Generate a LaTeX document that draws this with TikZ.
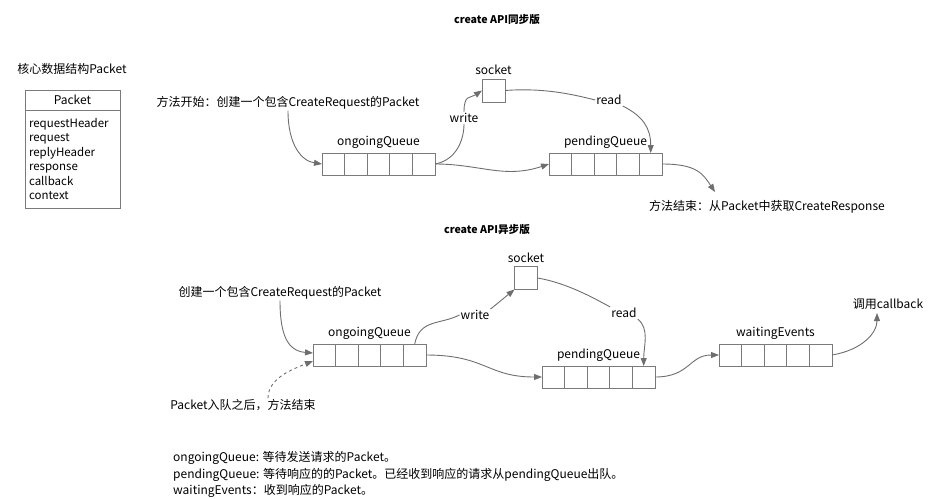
\documentclass[tikz,border=0pt]{standalone}
\usepackage{fontspec}
\setmainfont{Noto Sans CJK SC}
\usetikzlibrary{positioning,arrows.meta}
\definecolor{linegray}{HTML}{6E6E6E}
\definecolor{boxgray}{HTML}{7A7A7A}
\tikzset{
	cell/.style={draw=boxgray, line width=0.9pt, minimum width=22.6pt,
	minimum height=22pt, inner sep=0pt, outer sep=0pt},
	lnk/.style={draw=linegray, line width=0.9pt},
	arr/.style={lnk, -{Triangle[length=8pt,width=6pt]}},
	lbl/.style={inner sep=1pt, font=\fontsize{12}{13}\selectfont},
	ttl/.style={inner sep=1pt, font=\fontsize{10.6}{12}\selectfont\bfseries},
}
\begin{document}
\begin{tikzpicture}[x=1pt, y=-1pt]
	\useasboundingbox (0,0) rectangle (941,498);
	% Titel
	\node[ttl] (titleA) at (497, 20) {create API同步版};
	\node[ttl] (titleB) at (487, 230) {create API异步版};

	% Datenstruktur Packet
	\node[lbl] (pkTitle) at (72, 69) {核心数据结构Packet};
	\node[cell, lbl, minimum width=95pt, minimum height=20pt, anchor=north]
	(pkHead) at (72.5, 90) {Packet};
	\node[cell, minimum width=95pt, minimum height=98pt, text width=87pt,
	align=left, anchor=north, font=\fontsize{11.5}{14.4}\selectfont]
	(pkBody) at (pkHead.south) {requestHeader\\request\\replyHeader\\response\\callback\\context};

	% Queues oben
	\foreach \i in {1,...,5}{
		\pgfmathsetmacro{\cx}{322 + 11.3 + 22.6*(\i-1)}
		\node[cell] (ongA\i) at (\cx, 164) {};
		\pgfmathsetmacro{\cx}{549 + 11.3 + 22.6*(\i-1)}
		\node[cell] (penA\i) at (\cx, 164) {};
	}
	\node[lbl, above=3pt of ongA3] (ongAName) {ongoingQueue};
	\node[lbl, above=3pt of penA3] (penAName) {pendingQueue};
	\node[cell, minimum width=23pt, minimum height=23pt] (sockA) at (493.5, 90.5) {};
	\node[lbl, above=3pt of sockA] (sockAName) {socket};
	\node[lbl] (startA) at (288, 103) {方法开始：创建一个包含CreateRequest的Packet};
	\node[lbl] (endA) at (767, 207) {方法结束：从Packet中获取CreateResponse};
	\node[lbl, fill=white] (wrA) at (464, 118) {write};
	\node[lbl, fill=white] (rdA) at (609, 100) {read};
	\coordinate (endTipA) at (715, 192);

	% Verbindungen oben
	\draw[arr] (startA.south) .. controls +(0,35) and +(-20,-3) .. (ongA1.west);
	\draw[lnk] (ongA5.east) .. controls +(22,-4) and +(0,15) .. (wrA.south);
	\draw[arr] (wrA.north) .. controls +(0,-18) and +(-12,8) .. (sockA.west);
	\draw[lnk] (sockA.east) .. controls +(40,-3) and +(-20,-5) .. (rdA.west);
	\draw[arr] (rdA.south east) .. controls +(20,10) and +(0,-25) .. (penA5.north);
	\draw[arr] (ongA5.east) .. controls +(45,0) and +(-45,15) .. (penA1.west);
	\draw[arr] (penA5.east) .. controls +(35,0) and +(-12,-18) .. (endTipA);

	% Queues unten
	\foreach \i in {1,...,5}{
		\pgfmathsetmacro{\cx}{313 + 11.3 + 22.6*(\i-1)}
		\node[cell] (ongB\i) at (\cx, 355) {};
		\pgfmathsetmacro{\cx}{542 + 11.3 + 22.6*(\i-1)}
		\node[cell] (penB\i) at (\cx, 377) {};
		\pgfmathsetmacro{\cx}{719 + 11.3 + 22.6*(\i-1)}
		\node[cell] (waitB\i) at (\cx, 355) {};
	}
	\node[lbl, above=3pt of ongB3] (ongBName) {ongoingQueue};
	\node[lbl, above=3pt of penB3] (penBName) {pendingQueue};
	\node[lbl, above=3pt of waitB3] (waitBName) {waitingEvents};
	\node[cell, minimum width=23pt, minimum height=23pt] (sockB) at (526, 278) {};
	\node[lbl, above=3pt of sockB] (sockBName) {socket};
	\node[lbl] (startB) at (280, 293) {创建一个包含CreateRequest的Packet};
	\node[lbl] (endB) at (243, 405) {Packet入队之后，方法结束};
	\node[lbl] (cbB) at (888, 304) {调用callback};
	\node[lbl, fill=white] (wrB) at (475, 315) {write};
	\node[lbl, fill=white] (rdB) at (624, 313) {read};
	\coordinate (cbTip) at (877, 313);

	% Verbindungen unten
	\draw[arr] (startB.south) .. controls +(0,35) and +(-25,-2) .. ([yshift=2pt]ongB1.west);
	\draw[arr, dashed] ([xshift=25pt]endB.north) .. controls +(0,-20) and +(-20,8) .. ([yshift=-6pt]ongB1.west);
	\draw[lnk] (ongB5.north) .. controls +(5,-25) and +(-20,10) .. (wrB.west);
	\draw[arr] (wrB.north east) -- (sockB.south west);
	\draw[lnk] (sockB.east) .. controls +(30,5) and +(-15,-8) .. (rdB.north west);
	\draw[arr] (rdB.south east) .. controls +(12,10) and +(0,-20) .. (penB5.north);
	\draw[arr] (ongB5.east) .. controls +(60,0) and +(-55,0) .. (penB1.west);
	\draw[arr] (penB5.east) .. controls +(35,0) and +(-30,0) .. (waitB1.west);
	\draw[arr] (waitB5.east) .. controls +(30,-5) and +(0,20) .. (cbTip);

	% Legende
	\node[lbl, anchor=west] (legOng) at (172, 458) {ongoingQueue: 等待发送请求的Packet。};
	\node[lbl, anchor=west] (legPen) at (172, 475) {pendingQueue: 等待响应的的Packet。已经收到响应的请求从pendingQueue出队。};
	\node[lbl, anchor=west] (legWait) at (172, 491) {waitingEvents：收到响应的Packet。};
\end{tikzpicture}
\end{document}
